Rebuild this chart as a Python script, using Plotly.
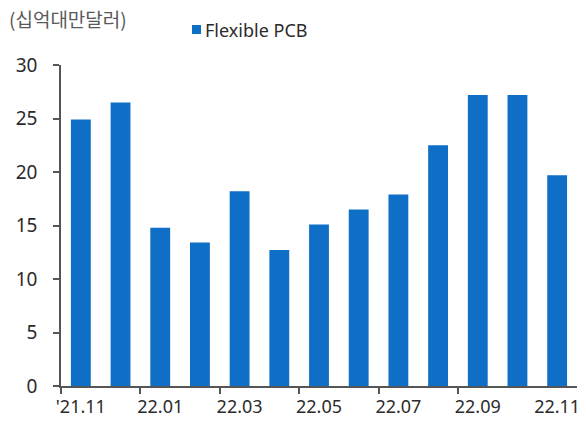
import plotly.graph_objects as go

# Monthly Flexible PCB revenue (billion NT$)
months = ["'21.11", "21.12", "22.01", "22.02", "22.03", "22.04", "22.05",
          "22.06", "22.07", "22.08", "22.09", "22.10", "22.11"]
flexible_pcb = [24.9, 26.5, 14.8, 13.4, 18.2, 12.7, 15.1,
                16.5, 17.9, 22.5, 27.2, 27.2, 19.7]
y_ticks = [0, 5, 10, 15, 20, 25, 30]

BAR_COLOR = "#0F6EC6"
AXIS_COLOR = "#555555"
TEXT_COLOR = "#2B2B2B"
FONT = "Noto Sans, Noto Sans CJK KR, sans-serif"

x_pos = list(range(len(months)))
label_pos = x_pos[::2]
label_text = [months[i] for i in label_pos]
# ticks sit on the category boundaries, one every two months
boundary_ticks = [i - 0.5 for i in range(0, len(months) - 1, 2)]

fig = go.Figure()
fig.add_trace(go.Bar(
    x=x_pos,
    y=flexible_pcb,
    name="Flexible PCB",
    marker=dict(color=BAR_COLOR, line=dict(width=0)),
    width=0.5,
    showlegend=False,
))

fig.update_layout(
    width=586,
    height=421,
    margin=dict(l=61, r=9, t=65, b=35),
    paper_bgcolor="white",
    plot_bgcolor="white",
    font=dict(family=FONT, size=18, color=TEXT_COLOR),
    xaxis=dict(
        range=[-0.5, len(months) - 0.5],
        automargin=False,
        tickmode="array",
        tickvals=label_pos,
        ticktext=label_text,
        ticks="",
        showline=True,
        linecolor=AXIS_COLOR,
        linewidth=1.5,
        showgrid=False,
        zeroline=False,
        ticklabelstandoff=4,
        tickfont=dict(size=18, color=TEXT_COLOR),
        minor=dict(
            tickmode="array",
            tickvals=boundary_ticks,
            ticks="outside",
            ticklen=6,
            tickwidth=1.5,
            tickcolor=AXIS_COLOR,
            showgrid=False,
        ),
    ),
    yaxis=dict(
        range=[0, 30],
        automargin=False,
        tickmode="array",
        tickvals=y_ticks,
        ticks="outside",
        ticklen=6,
        tickwidth=1.5,
        tickcolor=AXIS_COLOR,
        showline=True,
        linecolor=AXIS_COLOR,
        linewidth=1.5,
        showgrid=False,
        zeroline=False,
        ticklabelstandoff=12,
        tickfont=dict(size=19, color=TEXT_COLOR),
    ),
    shapes=[
        # legend swatch
        dict(
            type="rect", xref="paper", yref="paper",
            x0=0.2539, x1=0.2713, y0=1.0966, y1=1.1246,
            fillcolor=BAR_COLOR, line=dict(width=0),
        ),
    ],
    annotations=[
        dict(
            text="(십억대만달러)",
            xref="paper", yref="paper",
            x=-0.105, y=1.146,
            xanchor="left", yanchor="middle",
            showarrow=False,
            font=dict(size=19, color="#595959",
                      family="Noto Sans CJK KR, Noto Sans, sans-serif"),
        ),
        dict(
            text="Flexible PCB",
            xref="paper", yref="paper",
            x=0.2752, y=1.109,
            xanchor="left", yanchor="middle",
            showarrow=False,
            font=dict(size=18, color=TEXT_COLOR, family=FONT),
        ),
    ],
)

fig.write_html("out.html")
